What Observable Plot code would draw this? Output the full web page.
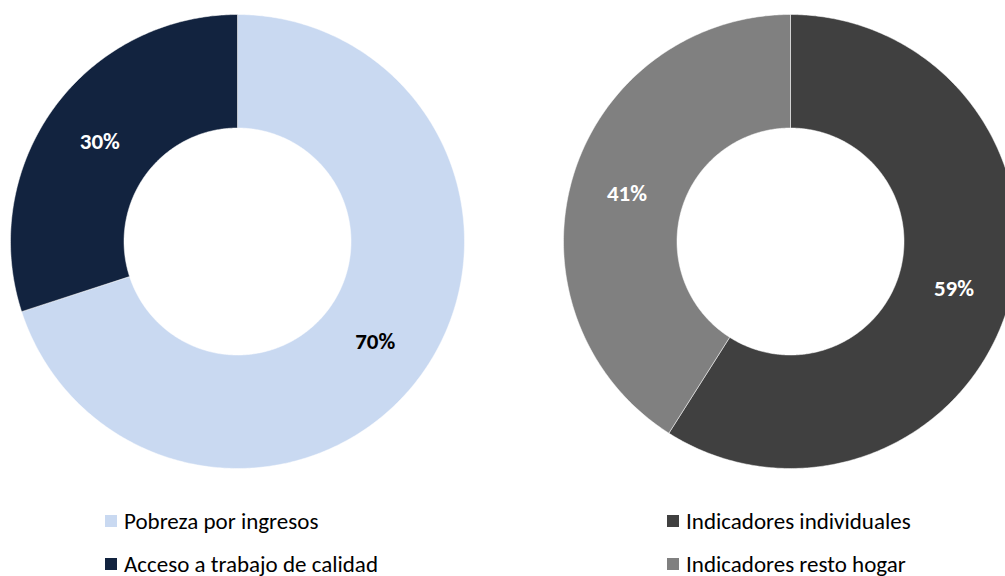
<!DOCTYPE html>
<html>
<head>
<meta charset="utf-8">
<script src="https://cdn.jsdelivr.net/npm/d3@7"></script>
<script src="https://cdn.jsdelivr.net/npm/@observablehq/plot@0.6"></script>
<style>
  html, body { margin: 0; padding: 0; background: #fff; }
  #wrap { position: relative; width: 1005px; height: 576px; font-family: Carlito, Lato, "Open Sans", sans-serif; }
  #legend { position: absolute; left: 0; top: 495px; width: 1005px; height: 81px; }
  .item { position: absolute; display: flex; align-items: center; font-size: 23px; line-height: 20px; color: #000; white-space: nowrap; }
  .sw { width: 12px; height: 12px; margin-right: 7px; }
</style>
</head>
<body>
<div id="wrap">
  <div id="chart"></div>
  <div id="legend"></div>
</div>
<script>
// Data
const leftCategories = ["Pobreza por ingresos", "Acceso a trabajo de calidad"];
const leftValues = [70, 30];
const leftColors = ["#C9D9F1", "#12233F"];
const leftLabelColors = ["#000000", "#FFFFFF"];

const rightCategories = ["Indicadores individuales", "Indicadores resto hogar"];
const rightValues = [59, 41];
const rightColors = ["#404040", "#808080"];
const rightLabelColors = ["#FFFFFF", "#FFFFFF"];

// Layout (unit space: outer radius 1)
const W = 1005, H = 495;
const R = 227;          // outer radius in px
const inner = 0.5;      // inner radius fraction
const cxLeft = 237, cxRight = 790, cy = 241;
const donuts = [
  {cats: leftCategories, vals: leftValues, cols: leftColors, lcols: leftLabelColors, ox: 0},
  {cats: rightCategories, vals: rightValues, cols: rightColors, lcols: rightLabelColors, ox: (cxRight - cxLeft) / R}
];

const polys = [];
const labels = [];
donuts.forEach((d, di) => {
  const total = d3.sum(d.vals);
  let start = 0;
  d.vals.forEach((v, i) => {
    const a0 = start / total * 2 * Math.PI;
    const a1 = (start + v) / total * 2 * Math.PI;
    start += v;
    const key = d.cats[i];
    const n = Math.max(8, Math.ceil((a1 - a0) / 0.01));
    const pts = [];
    for (let k = 0; k <= n; k++) {
      const a = a0 + (a1 - a0) * k / n;
      pts.push({x: d.ox + Math.sin(a), y: Math.cos(a)});
    }
    for (let k = n; k >= 0; k--) {
      const a = a0 + (a1 - a0) * k / n;
      pts.push({x: d.ox + inner * Math.sin(a), y: inner * Math.cos(a)});
    }
    pts.push(pts[0]);
    pts.forEach(p => polys.push({...p, key}));
    const am = (a0 + a1) / 2, rm = (1 + inner) / 2;
    labels.push({x: d.ox + rm * Math.sin(am), y: rm * Math.cos(am), text: Math.round(v / total * 100) + "%", color: d.lcols[i]});
  });
});

const allCats = [...leftCategories, ...rightCategories];
const allCols = [...leftColors, ...rightColors];

const chart = Plot.plot({
  width: W,
  height: H,
  margin: 0,
  x: {domain: [-cxLeft / R, (W - cxLeft) / R], range: [0, W], axis: null},
  y: {domain: [(cy - H) / R, cy / R], range: [H, 0], axis: null},
  color: {domain: allCats, range: allCols},
  style: {fontFamily: 'Carlito, Lato, "Open Sans", sans-serif', background: "#fff"},
  marks: [
    Plot.line(polys, {x: "x", y: "y", z: "key", fill: "key", stroke: "#fff", strokeWidth: 0.5, curve: "linear"}),
    Plot.text(labels, {x: "x", y: "y", text: "text", fill: d => d.color, fontSize: 23, fontWeight: "bold"})
  ]
});
document.getElementById("chart").appendChild(chart);

// Legend
const legend = document.getElementById("legend");
const legendItems = [
  {cat: leftCategories[0], col: leftColors[0], left: 105, top: 26},
  {cat: leftCategories[1], col: leftColors[1], left: 105, top: 69},
  {cat: rightCategories[0], col: rightColors[0], left: 667, top: 26},
  {cat: rightCategories[1], col: rightColors[1], left: 667, top: 69}
];
legendItems.forEach(it => {
  const div = document.createElement("div");
  div.className = "item";
  div.style.left = it.left + "px";
  div.style.top = (it.top - 10) + "px";
  div.style.height = "20px";
  div.innerHTML = `<span class="sw" style="background:${it.col}"></span><span>${it.cat}</span>`;
  legend.appendChild(div);
});
</script>
</body>
</html>
